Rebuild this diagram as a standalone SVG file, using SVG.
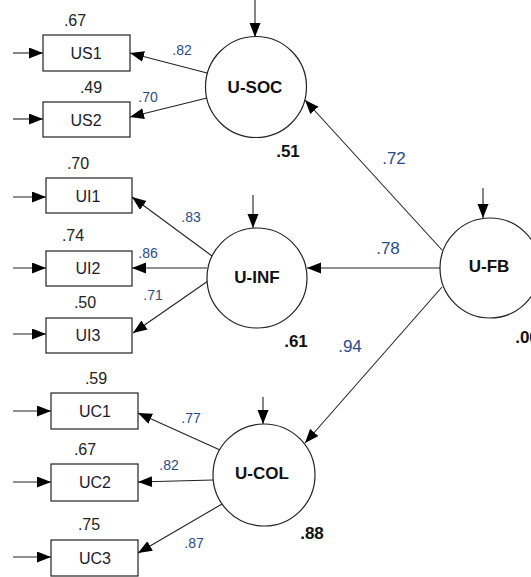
<svg xmlns="http://www.w3.org/2000/svg" width="531" height="577" viewBox="0 0 531 577">
<style>
.bg{fill:#fff}
.box{fill:#fff;stroke:#222;stroke-width:1.2}
.lat{fill:#fff;stroke:#222;stroke-width:1.2}
.ln{stroke:#222;stroke-width:1.1;fill:none;marker-end:url(#ah)}
.t{font-family:"Liberation Sans",Arial,sans-serif;text-anchor:middle;dominant-baseline:central}
.obs{font-size:16px;fill:#1a1a2e}
.lv{font-size:17px;font-weight:bold;fill:#111}
.var{font-size:16px;fill:#222}
.r2{font-size:17px;font-weight:bold;fill:#111}
.ld{font-size:14px;fill:#2a4b8d}
.pc{font-size:17px;fill:#2a4b8d}
</style>
<defs>
<marker id="ah" markerUnits="userSpaceOnUse" markerWidth="15" markerHeight="12" refX="14" refY="5.5" orient="auto">
<path d="M0,0 L14,5.5 L0,11 z" fill="#000"/>
</marker>
</defs>
<rect class="bg" x="0" y="0" width="531" height="577"/>

<g id="connectors">
<!-- error arrows into observed -->
<line class="ln" x1="13" y1="53" x2="43" y2="53"/>
<line class="ln" x1="13" y1="119" x2="43" y2="119"/>
<line class="ln" x1="13" y1="197" x2="46" y2="197"/>
<line class="ln" x1="13" y1="268" x2="46" y2="268"/>
<line class="ln" x1="13" y1="334" x2="46" y2="334"/>
<line class="ln" x1="13" y1="411" x2="51" y2="411"/>
<line class="ln" x1="13" y1="482" x2="51" y2="482"/>
<line class="ln" x1="13" y1="557" x2="51" y2="557"/>
<!-- disturbances into latents -->
<line class="ln" x1="255" y1="0" x2="255" y2="37"/>
<line class="ln" x1="253" y1="195" x2="253" y2="228"/>
<line class="ln" x1="263" y1="397" x2="263" y2="424"/>
<line class="ln" x1="483" y1="188" x2="483" y2="218"/>
<!-- loadings -->
<line class="ln" x1="207" y1="73" x2="130" y2="53"/>
<line class="ln" x1="207" y1="98" x2="130" y2="117"/>
<line class="ln" x1="212" y1="256" x2="132" y2="197"/>
<line class="ln" x1="207" y1="268" x2="132" y2="268"/>
<line class="ln" x1="208" y1="281" x2="133" y2="333"/>
<line class="ln" x1="220" y1="450" x2="138" y2="413"/>
<line class="ln" x1="213" y1="480" x2="138" y2="482"/>
<line class="ln" x1="222" y1="504" x2="138" y2="553"/>
<!-- structural -->
<line class="ln" x1="442" y1="250" x2="305" y2="100"/>
<line class="ln" x1="440" y1="268" x2="307" y2="268"/>
<line class="ln" x1="442" y1="287" x2="305" y2="443"/>
<!-- labels -->
<text class="t ld" x="182" y="50">.82</text>
<text class="t ld" x="148" y="97">.70</text>
<text class="t ld" x="191" y="217">.83</text>
<text class="t ld" x="148" y="253">.86</text>
<text class="t ld" x="153" y="295">.71</text>
<text class="t ld" x="191" y="418">.77</text>
<text class="t ld" x="169" y="465">.82</text>
<text class="t ld" x="194" y="543">.87</text>
<text class="t pc" x="394" y="158">.72</text>
<text class="t pc" x="388" y="248">.78</text>
<text class="t pc" x="350" y="346">.94</text>
</g>

<g id="US1"><rect class="box" x="43" y="35" width="87" height="36"/><text class="t obs" x="86" y="53">US1</text><text class="t var" x="75" y="20">.67</text></g>
<g id="US2"><rect class="box" x="43" y="102" width="87" height="35"/><text class="t obs" x="86" y="120">US2</text><text class="t var" x="91" y="87">.49</text></g>
<g id="UI1"><rect class="box" x="46" y="178" width="86" height="35"/><text class="t obs" x="88" y="196">UI1</text><text class="t var" x="78" y="163">.70</text></g>
<g id="UI2"><rect class="box" x="46" y="251" width="86" height="35"/><text class="t obs" x="88" y="268">UI2</text><text class="t var" x="73" y="235">.74</text></g>
<g id="UI3"><rect class="box" x="46" y="318" width="86" height="35"/><text class="t obs" x="88" y="335">UI3</text><text class="t var" x="85" y="302">.50</text></g>
<g id="UC1"><rect class="box" x="51" y="393" width="87" height="36"/><text class="t obs" x="95" y="411">UC1</text><text class="t var" x="96" y="378">.59</text></g>
<g id="UC2"><rect class="box" x="51" y="464" width="87" height="37"/><text class="t obs" x="95" y="482">UC2</text><text class="t var" x="85" y="449">.67</text></g>
<g id="UC3"><rect class="box" x="51" y="540" width="87" height="36"/><text class="t obs" x="95" y="558">UC3</text><text class="t var" x="89" y="524">.75</text></g>

<g id="U-SOC"><circle class="lat" cx="256" cy="87" r="50.5"/><text class="t lv" x="255" y="87">U-SOC</text><text class="t r2" x="288" y="151">.51</text></g>
<g id="U-INF"><circle class="lat" cx="257" cy="278" r="50"/><text class="t lv" x="257" y="277">U-INF</text><text class="t r2" x="296" y="341">.61</text></g>
<g id="U-COL"><circle class="lat" cx="264" cy="475" r="51"/><text class="t lv" x="262" y="473">U-COL</text><text class="t r2" x="312" y="533">.88</text></g>
<g id="U-FB"><circle class="lat" cx="490" cy="268" r="50"/><text class="t lv" x="489" y="266">U-FB</text><text class="t r2" x="527" y="337">.00</text></g>
</svg>
